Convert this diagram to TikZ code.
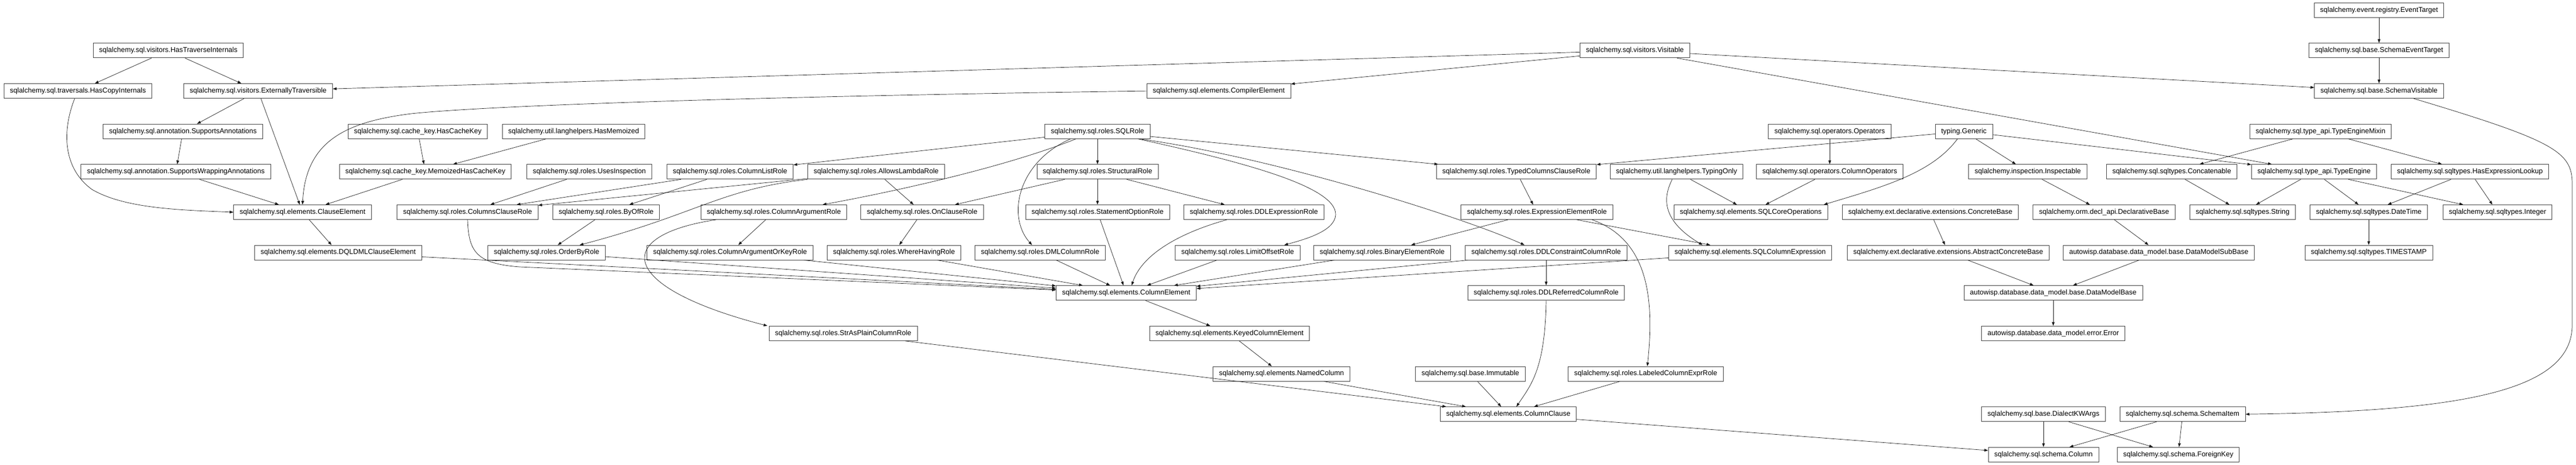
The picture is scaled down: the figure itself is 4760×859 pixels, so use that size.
\documentclass[tikz,border=0pt]{standalone}
\usepackage{fontspec}
\setmainfont{Liberation Sans}
\usetikzlibrary{arrows.meta}
\begin{document}
\begin{tikzpicture}[x=1pt,y=-1pt,
  cls/.style={draw=black!75, line width=0.9pt, fill=white, minimum height=27pt, inner xsep=11pt, inner ysep=0pt, font=\fontsize{13pt}{15pt}\selectfont, text=black},
  e/.style={draw=black!90, line width=0.7pt, -{Triangle[length=7pt,width=5pt]}}]
\useasboundingbox (0,0) rectangle (4760,859);
% row 0
\node[cls] (ET) at (4396,18.8) {sqlalchemy.event.registry.EventTarget};
% row 1
\node[cls] (HTI) at (311,93.4) {sqlalchemy.sql.visitors.HasTraverseInternals};
\node[cls] (VIS) at (3021,93.4) {sqlalchemy.sql.visitors.Visitable};
\node[cls] (SET) at (4396,93.4) {sqlalchemy.sql.base.SchemaEventTarget};
% row 2
\node[cls] (HCI) at (144,168.1) {sqlalchemy.sql.traversals.HasCopyInternals};
\node[cls] (EXT) at (477,168.1) {sqlalchemy.sql.visitors.ExternallyTraversible};
\node[cls] (CE) at (2252,168.1) {sqlalchemy.sql.elements.CompilerElement};
\node[cls] (SV) at (4396,168.1) {sqlalchemy.sql.base.SchemaVisitable};
% row 3
\node[cls] (SA) at (338,242.7) {sqlalchemy.sql.annotation.SupportsAnnotations};
\node[cls] (HCK) at (772,242.7) {sqlalchemy.sql.cache\_key.HasCacheKey};
\node[cls] (HM) at (1060,242.7) {sqlalchemy.util.langhelpers.HasMemoized};
\node[cls] (SQLR) at (2028,242.7) {sqlalchemy.sql.roles.SQLRole};
\node[cls] (OPS) at (3381,242.7) {sqlalchemy.sql.operators.Operators};
\node[cls] (GEN) at (3629,242.7) {typing.Generic};
\node[cls] (TEM) at (4288,242.7) {sqlalchemy.sql.type\_api.TypeEngineMixin};
% row 4
\node[cls] (SWA) at (325,317.4) {sqlalchemy.sql.annotation.SupportsWrappingAnnotations};
\node[cls] (MHCK) at (786,317.4) {sqlalchemy.sql.cache\_key.MemoizedHasCacheKey};
\node[cls] (UI) at (1089,317.4) {sqlalchemy.sql.roles.UsesInspection};
\node[cls] (CLR) at (1349,317.4) {sqlalchemy.sql.roles.ColumnListRole};
\node[cls] (ALR) at (1619,317.4) {sqlalchemy.sql.roles.AllowsLambdaRole};
\node[cls] (STR) at (2028,317.4) {sqlalchemy.sql.roles.StructuralRole};
\node[cls] (TCCR) at (2802,317.4) {sqlalchemy.sql.roles.TypedColumnsClauseRole};
\node[cls] (TO) at (3098,317.4) {sqlalchemy.util.langhelpers.TypingOnly};
\node[cls] (COPS) at (3381,317.4) {sqlalchemy.sql.operators.ColumnOperators};
\node[cls] (INS) at (3747,317.4) {sqlalchemy.inspection.Inspectable};
\node[cls] (CAT) at (4013,317.4) {sqlalchemy.sql.sqltypes.Concatenable};
\node[cls] (TE) at (4276,317.4) {sqlalchemy.sql.type\_api.TypeEngine};
\node[cls] (HEL) at (4564,317.4) {sqlalchemy.sql.sqltypes.HasExpressionLookup};
% row 5
\node[cls] (CLE) at (559,392) {sqlalchemy.sql.elements.ClauseElement};
\node[cls] (CCR) at (864,392) {sqlalchemy.sql.roles.ColumnsClauseRole};
\node[cls] (BOR) at (1120,392) {sqlalchemy.sql.roles.ByOfRole};
\node[cls] (CAR) at (1430,392) {sqlalchemy.sql.roles.ColumnArgumentRole};
\node[cls] (OCR) at (1704,392) {sqlalchemy.sql.roles.OnClauseRole};
\node[cls] (SOR) at (2028,392) {sqlalchemy.sql.roles.StatementOptionRole};
\node[cls] (DDLE) at (2317,392) {sqlalchemy.sql.roles.DDLExpressionRole};
\node[cls] (EER) at (2840,392) {sqlalchemy.sql.roles.ExpressionElementRole};
\node[cls] (SCO) at (3235,392) {sqlalchemy.sql.elements.SQLCoreOperations};
\node[cls] (CB) at (3567,392) {sqlalchemy.ext.declarative.extensions.ConcreteBase};
\node[cls] (DB) at (3888,392) {sqlalchemy.orm.decl\_api.DeclarativeBase};
\node[cls] (STRG) at (4144,392) {sqlalchemy.sql.sqltypes.String};
\node[cls] (DT) at (4377,392) {sqlalchemy.sql.sqltypes.DateTime};
\node[cls] (INT) at (4615,392) {sqlalchemy.sql.sqltypes.Integer};
% row 6
\node[cls] (DQL) at (625,466.6) {sqlalchemy.sql.elements.DQLDMLClauseElement};
\node[cls] (OBR) at (1010,466.6) {sqlalchemy.sql.roles.OrderByRole};
\node[cls] (CAOK) at (1349,466.6) {sqlalchemy.sql.roles.ColumnArgumentOrKeyRole};
\node[cls] (WHR) at (1652,466.6) {sqlalchemy.sql.roles.WhereHavingRole};
\node[cls] (DMLR) at (1922,466.6) {sqlalchemy.sql.roles.DMLColumnRole};
\node[cls] (LOR) at (2287,466.6) {sqlalchemy.sql.roles.LimitOffsetRole};
\node[cls] (BER) at (2554,466.6) {sqlalchemy.sql.roles.BinaryElementRole};
\node[cls] (DDLC) at (2857,466.6) {sqlalchemy.sql.roles.DDLConstraintColumnRole};
\node[cls] (SCE) at (3234,466.6) {sqlalchemy.sql.elements.SQLColumnExpression};
\node[cls] (ACB) at (3600,466.6) {sqlalchemy.ext.declarative.extensions.AbstractConcreteBase};
\node[cls] (DMSB) at (3989,466.6) {autowisp.database.data\_model.base.DataModelSubBase};
\node[cls] (TS) at (4377,466.6) {sqlalchemy.sql.sqltypes.TIMESTAMP};
% row 7
\node[cls] (COLE) at (2081,541.3) {sqlalchemy.sql.elements.ColumnElement};
\node[cls] (DDLR) at (2857,541.3) {sqlalchemy.sql.roles.DDLReferredColumnRole};
\node[cls] (DMB) at (3794,541.3) {autowisp.database.data\_model.base.DataModelBase};
% row 8
\node[cls] (SAP) at (1558,615.9) {sqlalchemy.sql.roles.StrAsPlainColumnRole};
\node[cls] (KCE) at (2272,615.9) {sqlalchemy.sql.elements.KeyedColumnElement};
\node[cls] (ERR) at (3794,615.9) {autowisp.database.data\_model.error.Error};
% row 9
\node[cls] (NC) at (2368,690.6) {sqlalchemy.sql.elements.NamedColumn};
\node[cls] (IMM) at (2717,690.6) {sqlalchemy.sql.base.Immutable};
\node[cls] (LCER) at (3041,690.6) {sqlalchemy.sql.roles.LabeledColumnExprRole};
% row 10
\node[cls] (CC) at (2787,765.2) {sqlalchemy.sql.elements.ColumnClause};
\node[cls] (DKW) at (3776,765.2) {sqlalchemy.sql.base.DialectKWArgs};
\node[cls] (SI) at (4033,765.2) {sqlalchemy.sql.schema.SchemaItem};
% row 11
\node[cls] (COL) at (3776,839.8) {sqlalchemy.sql.schema.Column};
\node[cls] (FK) at (4025,839.8) {sqlalchemy.sql.schema.ForeignKey};

% edges
\draw[e] (HTI) -- (HCI);
\draw[e] (HTI) -- (EXT);
\draw[e] (VIS) -- (EXT);
\draw[e] (VIS) -- (CE);
\draw[e] (VIS) -- (SV);
\draw[e] (VIS) -- (TE);
\draw[e] (GEN) -- (TE);
\draw[e] (TEM) -- (CAT);
\draw[e] (TEM) -- (HEL);
\draw[e] (CAT) -- (STRG);
\draw[e] (TE) -- (STRG);
\draw[e] (TE) -- (DT);
\draw[e] (HEL) -- (DT);
\draw[e] (TE) -- (INT);
\draw[e] (HEL) -- (INT);
\draw[e] (DT) -- (TS);
\draw[e] (ET) -- (SET);
\draw[e] (SET) -- (SV);
\draw[e] ([xshift=64pt]SV.south) .. controls (4720,260) and (4753,280) .. (4753,340) -- (4753,600) .. controls (4753,720) and (4560,760) .. (SI.east);
\draw[e] (EXT) -- (SA);
\draw[e] (EXT) -- (CLE);
\draw[e] (SA) -- (SWA);
\draw[e] (SWA) -- (CLE);
\draw[e] ([xshift=-6pt]HCI.south) .. controls (115,240) and (115,310) .. (170,350) .. controls (230,385) and (330,388) .. (CLE.west);
\draw[e] (CE.west) .. controls (1400,178) and (900,195) .. (760,210) .. controls (640,225) and (565,260) .. (CLE.north);
\draw[e] (HCK) -- (MHCK);
\draw[e] (HM) -- (MHCK);
\draw[e] (MHCK) -- (CLE);
\draw[e] (CLE) -- (DQL);
\draw[e] (DQL) -- (COLE);
\draw[e] (UI) -- (CCR);
\draw[e] (CLR) -- (CCR);
\draw[e] (ALR) -- (CCR);
\draw[e] (CLR) -- (BOR);
\draw[e] (ALR.south west) .. controls (1330,350) and (1290,395) .. ([xshift=61pt]OBR.north);
\draw[e] (BOR) -- (OBR);
\draw[e] (SQLR) -- (CLR);
\draw[e] ([xshift=-40pt]SQLR.south) .. controls (1880,300) and (1700,345) .. ([xshift=90pt]CAR.north);
\draw[e] ([xshift=-50pt]SQLR.south) .. controls (1880,300) and (1860,400) .. ([xshift=-15pt]DMLR.north);
\draw[e] (SQLR) -- (STR);
\draw[e] (SQLR) -- (TCCR);
\draw[e] ([xshift=75pt]SQLR.south) .. controls (2300,300) and (2470,345) .. (2468,397) .. controls (2466,425) and (2420,440) .. ([xshift=86pt]LOR.north);
\draw[e] ([xshift=78pt]SQLR.south) .. controls (2350,290) and (2700,400) .. ([xshift=-40pt]DDLC.north);
\draw[e] (STR) -- (OCR);
\draw[e] (STR) -- (SOR);
\draw[e] (STR) -- (DDLE);
\draw[e] (ALR) -- (OCR);
\draw[e] (CAR) -- (CAOK);
\draw[e] ([xshift=-107pt]CAR.south) .. controls (1130,435) and (1140,530) .. ([xshift=-140pt]SAP.north);
\draw[e] (CCR.south) .. controls (866,465) and (880,487) .. (960,493) -- (COLE);
\draw[e] (OBR) -- (COLE);
\draw[e] (CAOK) -- (COLE);
\draw[e] (OCR) -- (WHR);
\draw[e] (WHR) -- (COLE);
\draw[e] (SOR) -- (COLE);
\draw[e] ([xshift=-50pt]DDLE.south) .. controls (2180,430) and (2110,470) .. ([xshift=10pt]COLE.north);
\draw[e] (DMLR) -- (COLE);
\draw[e] (LOR) -- (COLE);
\draw[e] (BER) -- (COLE);
\draw[e] (DDLC) -- (COLE);
\draw[e] (SCE) -- (COLE);
\draw[e] (TCCR) -- (EER);
\draw[e] (EER) -- (BER);
\draw[e] (EER) -- (SCE);
\draw[e] ([xshift=102pt]EER.south) .. controls (3050,445) and (3056,560) .. ([xshift=3pt]LCER.north);
\draw[e] (TO) -- (SCO);
\draw[e] ([xshift=-8pt]TO.south) .. controls (3070,370) and (3075,410) .. ([xshift=-88pt]SCE.north);
\draw[e] (COPS) -- (SCO);
\draw[e] (OPS) -- (COPS);
\draw[e] ([xshift=-12pt]GEN.south) .. controls (3570,320) and (3480,345) .. ([xshift=135pt]SCO.north);
\draw[e] (GEN) -- (TCCR);
\draw[e] (GEN) -- (INS);
\draw[e] (INS) -- (DB);
\draw[e] (CB) -- (ACB);
\draw[e] (DB) -- (DMSB);
\draw[e] (ACB) -- (DMB);
\draw[e] (DMSB) -- (DMB);
\draw[e] (DMB) -- (ERR);
\draw[e] (COLE) -- (KCE);
\draw[e] (KCE) -- (NC);
\draw[e] (NC) -- (CC);
\draw[e] (SAP) -- (CC);
\draw[e] (IMM) -- (CC);
\draw[e] (DDLR.south) .. controls (2855,680) and (2830,710) .. ([xshift=15pt]CC.north);
\draw[e] (LCER) -- (CC);
\draw[e] (DDLC) -- (DDLR);
\draw[e] (CC) -- (COL);
\draw[e] (DKW) -- (COL);
\draw[e] (DKW) -- (FK);
\draw[e] (SI) -- (COL);
\draw[e] (SI) -- (FK);
\end{tikzpicture}
\end{document}
